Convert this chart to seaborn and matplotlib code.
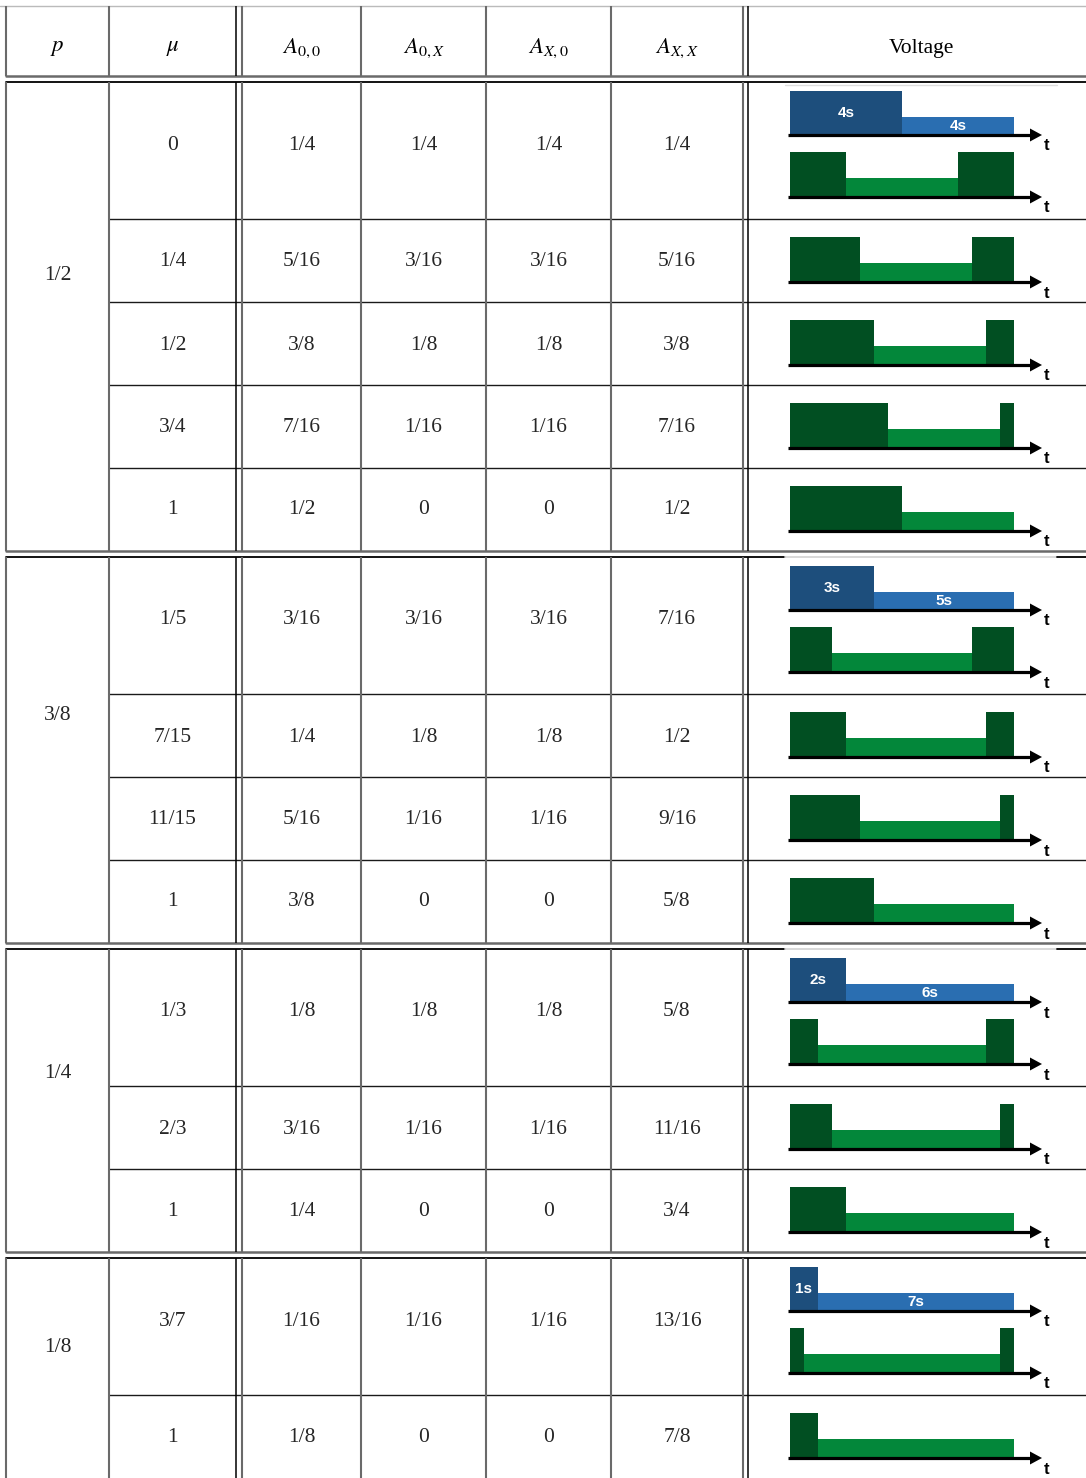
import numpy as np
import matplotlib
matplotlib.use("Agg")
import matplotlib.pyplot as plt
import seaborn as sns

sns.set_theme(style="white")
plt.rcParams['font.family'] = ['Liberation Serif', 'DejaVu Serif']
plt.rcParams['mathtext.fontset'] = 'stix'

# ---------------- data ----------------
headers = ['$p$', '$\\mu$', '$A_{0,0}$', '$A_{0,X}$', '$A_{X,0}$', '$A_{X,X}$', 'Voltage']
p_labels = ['1/2', '3/8', '1/4', '1/8']
mu_labels = [['0', '1/4', '1/2', '3/4', '1'],
             ['1/5', '7/15', '11/15', '1'],
             ['1/3', '2/3', '1'],
             ['3/7', '1']]
a00 = [['1/4', '5/16', '3/8', '7/16', '1/2'],
       ['3/16', '1/4', '5/16', '3/8'],
       ['1/8', '3/16', '1/4'],
       ['1/16', '1/8']]
a0x = [['1/4', '3/16', '1/8', '1/16', '0'],
       ['3/16', '1/8', '1/16', '0'],
       ['1/8', '1/16', '0'],
       ['1/16', '0']]
ax0 = [['1/4', '3/16', '1/8', '1/16', '0'],
       ['3/16', '1/8', '1/16', '0'],
       ['1/8', '1/16', '0'],
       ['1/16', '0']]
axx = [['1/4', '5/16', '3/8', '7/16', '1/2'],
       ['7/16', '1/2', '9/16', '5/8'],
       ['5/8', '11/16', '3/4'],
       ['13/16', '7/8']]
# blue pulse durations (seconds): high part, low part
blue_durations = [[4, 4], [3, 5], [2, 6], [1, 7]]
# green pulse durations: first high, low, last high
green_durations = [[[2, 4, 2], [2.5, 4, 1.5], [3, 4, 1], [3.5, 4, 0.5], [4, 4, 0]],
                   [[1.5, 5, 1.5], [2, 5, 1], [2.5, 5, 0.5], [3, 5, 0]],
                   [[1, 6, 1], [1.5, 6, 0.5], [2, 6, 0]],
                   [[0.5, 7, 0.5], [1, 7, 0]]]

# ---------------- layout (pixels) ----------------
W, H = 1086, 1478
col_lines = [6, 109, 236, 242, 361, 486, 611, 743, 748]
col_centers = [57.5, 172.5, 301.5, 423.5, 548.5, 677, 921]
header_top, header_bot, header_mid = 6, 76, 48
group_rows = [[82, 219, 302, 385, 468, 551],
              [557, 694, 777, 860, 943],
              [949, 1086, 1169, 1252],
              [1258, 1395, 1490]]
text_y = [[145, 262, 345, 428, 510],
          [620, 737, 820, 902],
          [1012, 1129, 1212],
          [1321, 1438]]
p_y = [276, 716, 1073, 1348]

GRAY = '#6a6a6a'
DARK = '#1a1a1a'
DB, LB = '#1d4e7c', '#2a6eb1'
DG, LG = '#014f22', '#03873a'

fig = plt.figure(figsize=(W / 100, H / 100), dpi=100)
ax = fig.add_axes([0, 0, 1, 1])
ax.set_xlim(0, W)
ax.set_ylim(H, 0)
ax.axis('off')

FS = 15.5


def vlines(y0, y1):
    for i, x in enumerate(col_lines):
        black = x in (236, 748)
        ax.plot([x, x], [y0, y1], color='black' if black else GRAY,
                lw=1.1 if black else 1.5, solid_capstyle='butt')


# header
ax.plot([0, W], [header_top, header_top], color='#bbbbbb', lw=1.0)
ax.plot([6, W], [header_bot, header_bot], color=GRAY, lw=1.8)
vlines(header_top, header_bot)
for i, (cx, h) in enumerate(zip(col_centers, headers)):
    ax.text(cx, header_mid, h, ha='center', va='center',
            fontsize=16.5 if h.startswith('$') else FS, color='black')

# groups
for g, rows in enumerate(group_rows):
    top, bot = rows[0], rows[-1]
    if g in (1, 2):
        ax.plot([6, 785], [top, top], color='black', lw=1.3)
        ax.plot([785, 1057], [top, top], color='#d6d6d6', lw=1.3)
        ax.plot([1057, W], [top, top], color='black', lw=1.3)
    else:
        ax.plot([6, W], [top, top], color='black', lw=1.3)
        if g == 0:
            ax.plot([785, 1057], [top + 2.5, top + 2.5], color='#dddddd', lw=1.0)
    if g < 3:
        ax.plot([6, W], [bot, bot], color=GRAY, lw=1.8)
    for yb in rows[1:-1]:
        ax.plot([109, W], [yb, yb], color=DARK, lw=1.0)
    vlines(top, bot)
    ax.text(col_centers[0], p_y[g], p_labels[g], ha='center', va='center', fontsize=FS)
    for r in range(len(mu_labels[g])):
        y = text_y[g][r]
        for ci, vals in zip(range(1, 6), [mu_labels, a00, a0x, ax0, axx]):
            ax.text(col_centers[ci], y, vals[g][r], ha='center', va='center', fontsize=FS)

# voltage diagrams
X0, S = 790.0, 28.0  # t=0 pixel and pixels per second


def diagram(axis_y, durations, colors, heights, labels=None):
    lp, rp = 778, 1064
    tp, bp = axis_y - 52, axis_y + 20
    dax = fig.add_axes([lp / W, 1 - bp / H, (rp - lp) / W, (bp - tp) / H])
    dax.set_xlim((lp - X0) / S, (rp - X0) / S)
    dax.set_ylim(-20, 52)
    dax.axis('off')
    durations = np.asarray(durations, dtype=float)
    lefts = np.concatenate([[0.0], np.cumsum(durations)[:-1]])
    keep = durations > 0
    dax.bar(lefts[keep], np.asarray(heights)[keep], width=durations[keep], align='edge',
            color=np.asarray(colors)[keep], linewidth=0)
    if labels is not None:
        for l, d, h, lab in zip(lefts, durations, heights, labels):
            dax.text(l + d / 2, h / 2, lab, ha='center', va='center', color='white',
                     fontsize=11, fontweight='bold', family='Liberation Sans')
    tip = (1042 - X0) / S
    hl = 12 / S
    dax.plot([-0.08, tip - hl + 0.05], [0, 0], color='black', lw=2.3, solid_capstyle='butt')
    dax.fill([tip, tip - hl, tip - hl], [0, 6.5, -6.5], color='black', lw=0)
    dax.text((1047 - X0) / S, -11, 't', ha='center', va='center', fontsize=12,
             fontweight='bold', family='Liberation Sans', color='black')


for g, rows in enumerate(group_rows):
    for r in range(len(mu_labels[g])):
        top = rows[r]
        if r == 0:
            bd = blue_durations[g]
            diagram(top + 53, bd, [DB, LB], [44, 18], [f'{bd[0]}s', f'{bd[1]}s'])
            gy = top + 115
        else:
            gy = top + 63
        diagram(gy, green_durations[g][r], [DG, LG, DG], [45, 19, 45])

fig.savefig('out.png', dpi=100)
